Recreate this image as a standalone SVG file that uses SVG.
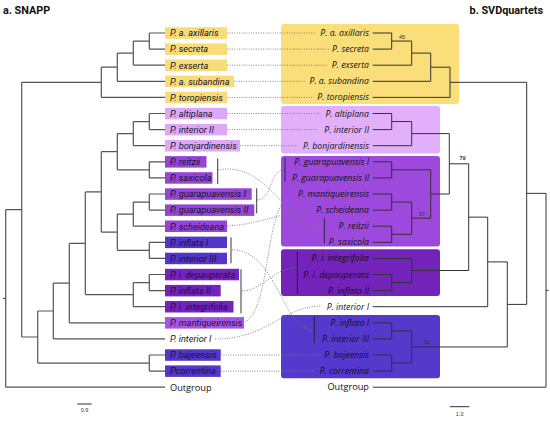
<svg xmlns="http://www.w3.org/2000/svg" width="550" height="423" viewBox="0 0 550 423">
<style>
.tl{fill:none;stroke:#555;stroke-width:1.2}
.tr{fill:none;stroke:#333;stroke-width:1}
.dot{fill:none;stroke:#7a7a7a;stroke-width:0.9;stroke-dasharray:1 1.4}
.bar{stroke:#222;stroke-width:0.9}
.ll{font-family:Roboto,"Liberation Sans",sans-serif;font-style:italic;font-size:9.2px;fill:#15152a}
.rl{font-family:"Open Sans","Noto Sans",sans-serif;font-style:italic;font-size:8.7px;fill:#111;text-anchor:end}
.og{font-family:"Open Sans","Noto Sans",sans-serif;font-size:9.2px;fill:#111}
.num{font-family:"Liberation Sans",sans-serif;font-size:5.5px;fill:#333}
.ttl{font-family:Roboto,"Liberation Sans",sans-serif;font-weight:bold;font-size:10.8px;fill:#111}
.y{fill:#f8dc77}.lv{fill:#dea8f7}.md{fill:#9644d8}.dk{fill:#7523bd}.bl{fill:#5436ca}.mt{fill:#a656e4}
</style>
<rect width="550" height="423" fill="#fff"/>
<text class="ttl" x="3" y="14">a. SNAPP</text>
<text class="ttl" x="543" y="14" text-anchor="end">b. SVDquartets</text>

<g id="right-boxes">
<rect x="281" y="24" width="178" height="80" rx="3" fill="#f9de7a"/>
<rect x="281" y="106" width="159" height="47.5" rx="3" fill="#e2b0fa"/>
<rect x="281" y="156" width="159" height="90.5" rx="3" fill="#9e49de"/>
<rect x="281" y="249.3" width="159" height="46.7" rx="3" fill="#7322ba"/>
<rect x="281" y="315" width="159" height="63.3" rx="3" fill="#5538cc"/>
</g>

<g id="connectors">
<path class="dot" d="M227,33H316 M227,49.1H329 M227,65.2H328 M234,81.3H305 M227,97.4H313 M227,113.5H321 M227,129.6H318 M240,145.7H297 M221,355H320 M221,371.1H315"/>
<path class="dot" d="M218,170 C268,160 288,228 323,231"/>
<path class="dot" d="M257,200 C272,200 270,170 284,170"/>
<path class="dot" d="M227,226 C262,224 282,212 311,210"/>
<path class="dot" d="M245,322 C272,308 264,200 293,194"/>
<path class="dot" d="M232,250 C277,250 282,330 313,330"/>
<path class="dot" d="M242,291 C265,290 272,268 297,268"/>
<path class="dot" d="M215,339 C268,339 282,306 322,306"/>
</g>

<g id="left-tree">
<path class="tl" d="M3,298.4H5.7 M5.7,209.65V387.2 M5.7,209.65H21.7 M5.7,387.2H165
M21.7,82.3V337 M21.7,82.3H101.3 M21.7,337H37.7
M101.3,67.2V97.4 M101.3,67.2H117.3 M101.3,97.4H165
M117.3,53.1V81.3 M117.3,53.1H133.3 M117.3,81.3H165
M133.3,41.05V65.2 M133.3,41.05H149.3 M133.3,65.2H165
M149.3,33V49.1 M149.3,33H165 M149.3,49.1H165
M37.7,311V363.05 M37.7,311H53.3 M37.7,363.05H149.3
M149.3,355V371.1 M149.3,355H165 M149.3,371.1H165
M53.3,283.05V338.9 M53.3,283.05H69.3 M53.3,338.9H165
M69.3,243.3V322.8 M69.3,243.3H85.3 M69.3,322.8H165
M85.3,191.95V294.6 M85.3,191.95H101.3 M85.3,294.6H133.3
M133.3,282.55V306.7 M133.3,282.55H149.3 M133.3,306.7H165
M149.3,274.5V290.6 M149.3,274.5H165 M149.3,290.6H165
M101.3,151.7V232.2 M101.3,151.7H117.3 M101.3,232.2H117.3
M117.3,133.6V169.85 M117.3,133.6H133.3 M117.3,169.85H149.3
M133.3,121.55V145.7 M133.3,121.55H149.3 M133.3,145.7H165
M149.3,113.5V129.6 M149.3,113.5H165 M149.3,129.6H165
M149.3,161.8V177.9 M149.3,161.8H165 M149.3,177.9H165
M117.3,214.1V250.35 M117.3,214.1H133.3 M117.3,250.35H149.3
M133.3,202.05V226.2 M133.3,202.05H149.3 M133.3,226.2H165
M149.3,194V210.1 M149.3,194H165 M149.3,210.1H165
M149.3,242.3V258.4 M149.3,242.3H165 M149.3,258.4H165"/>
</g>

<g id="right-tree">
<path class="tr" d="M372.7,33H391.7 M372.7,49.1H391.7 M391.7,33V49.1 M391.7,41.05H411.7 M372.7,65.2H411.7 M411.7,41.05V65.2
M411.7,53.1H430.7 M372.7,81.3H430.7 M430.7,53.1V81.3 M430.7,67.2H450 M372.7,97.4H450 M450,67.2V97.4
M450,82.3H526.7 M526.7,82.3V304.4 M507.3,304.4H526.7 M526.7,193.35H546 M546,193.35V387.2 M372.7,387.2H546 M546,290.3H548.5
M372.7,113.5H391.7 M372.7,129.6H391.7 M391.7,113.5V129.6 M391.7,121.55H411.7 M372.7,145.7H411.7 M411.7,121.55V145.7
M372.7,161.8H391.7 M372.7,177.9H391.7 M391.7,161.8V177.9
M372.7,194H391.7 M372.7,210.1H391.7 M391.7,194V210.1
M372.7,226.2H391.7 M372.7,242.3H391.7 M391.7,226.2V242.3
M391.7,202.05H411.7 M391.7,234.25H411.7 M411.7,202.05V234.25
M391.7,169.85H430.7 M411.7,218.15H430.7 M430.7,169.85V218.15
M411.7,133.6H449.3 M430.7,194H449.3 M449.3,133.6V194
M449.3,163.8H468.7 M411.7,270.5H468.7 M468.7,163.8V270.5
M372.7,274.5H391.7 M372.7,290.6H391.7 M391.7,274.5V290.6 M391.7,282.55H411.7 M372.7,258.4H411.7 M411.7,258.4V282.55
M468.7,217.15H487.7 M372.7,306.7H487.7 M487.7,217.15V306.7
M372.7,322.8H391.7 M372.7,338.9H391.7 M391.7,322.8V338.9
M372.7,355H391.7 M372.7,371.1H391.7 M391.7,355V371.1
M391.7,330.85H411.7 M391.7,363.05H411.7 M411.7,330.85V363.05
M487.7,261.9H507.3 M411.7,346.95H507.3 M507.3,261.9V346.95"/>
<text class="num" x="399" y="38.5">45</text>
<text class="num" x="459.5" y="160" font-weight="bold" font-size="6px">79</text>
<text class="num" x="419" y="215.5">57</text>
<text class="num" x="424" y="344">52</text>
</g>

<g id="left-labels">
<g id="L1"><rect class="y" x="165" y="27.3" width="62" height="11.5"/><text class="ll" x="170" y="36.3">P. a. axillaris</text></g>
<g id="L2"><rect class="y" x="165" y="43.4" width="62" height="11.5"/><text class="ll" x="170" y="52.4">P. secreta</text></g>
<g id="L3"><rect class="y" x="165" y="59.5" width="62" height="11.5"/><text class="ll" x="170" y="68.5">P. exserta</text></g>
<g id="L4"><rect class="y" x="165" y="75.6" width="69" height="11.5"/><text class="ll" x="170" y="84.6">P. a. subandina</text></g>
<g id="L5"><rect class="y" x="165" y="91.7" width="62" height="11.5"/><text class="ll" x="170" y="100.7">P. toropiensis</text></g>
<g id="L6"><rect class="lv" x="165" y="107.8" width="62" height="11.5"/><text class="ll" x="170" y="116.8">P. altiplana</text></g>
<g id="L7"><rect class="lv" x="165" y="123.9" width="62" height="11.5"/><text class="ll" x="170" y="132.9">P. interior II</text></g>
<g id="L8"><rect class="lv" x="165" y="140" width="75" height="11.5"/><text class="ll" x="170" y="149">P. bonjardinensis</text></g>
<g id="L9"><rect class="md" x="165" y="156.1" width="41.5" height="11.5"/><text class="ll" x="170" y="165.1">P. reitzii</text></g>
<g id="L10"><rect class="md" x="165" y="172.2" width="47.5" height="11.5"/><text class="ll" x="170" y="181.2">P. saxicola</text></g>
<g id="L11"><rect class="md" x="165" y="188.3" width="86.7" height="11.5"/><text class="ll" x="170" y="197.3">P. guarapuavensis I</text></g>
<g id="L12"><rect class="md" x="165" y="204.4" width="89.3" height="11.5"/><text class="ll" x="170" y="213.4">P. guarapuavensis II</text></g>
<g id="L13"><rect class="md" x="165" y="220.5" width="62" height="11.5"/><text class="ll" x="170" y="229.5">P. scheideana</text></g>
<g id="L14"><rect class="bl" x="165" y="236.6" width="62" height="11.5"/><text class="ll" x="170" y="245.6">P. inflata I</text></g>
<g id="L15"><rect class="bl" x="165" y="252.7" width="62" height="11.5"/><text class="ll" x="170" y="261.7">P. interior III</text></g>
<g id="L16"><rect class="dk" x="165" y="268.8" width="74" height="11.5"/><text class="ll" x="170" y="277.8">P. i. depauperata</text></g>
<g id="L17"><rect class="dk" x="165" y="284.9" width="55.7" height="11.5"/><text class="ll" x="170" y="293.9">P. inflata II</text></g>
<g id="L18"><rect class="dk" x="165" y="301" width="68.5" height="11.5"/><text class="ll" x="170" y="310">P. i. integrifolia</text></g>
<g id="L19"><rect class="mt" x="165" y="317.1" width="79" height="11.5"/><text class="ll" x="170" y="326.1">P. mantiqueirensis</text></g>
<g id="L20"><text class="ll" x="170" y="342.2">P. interior I</text></g>
<g id="L21"><rect class="bl" x="165" y="349.3" width="55.7" height="11.5"/><text class="ll" x="170" y="358.3">P. bajeensis</text></g>
<g id="L22"><rect class="bl" x="165" y="365.4" width="55.7" height="11.5"/><text class="ll" x="170" y="374.4">Pcorrentina</text></g>
<g id="L23"><text class="og" x="170" y="390.5">Outgroup</text></g>
<line class="bar" x1="217.7" y1="158.3" x2="217.7" y2="184"/>
<line class="bar" x1="256.7" y1="188.3" x2="256.7" y2="213.3"/>
<line class="bar" x1="231" y1="237.3" x2="231" y2="263.3"/>
<line class="bar" x1="241" y1="269.3" x2="241" y2="313.3"/>
</g>

<g id="right-labels">
<text class="rl" x="369" y="36">P. a. axillaris</text>
<text class="rl" x="369" y="52.1">P. secreta</text>
<text class="rl" x="369" y="68.2">P. exserta</text>
<text class="rl" x="369" y="84.3">P. a. subandina</text>
<text class="rl" x="369" y="100.4">P. toropiensis</text>
<text class="rl" x="369" y="116.5">P. altiplana</text>
<text class="rl" x="369" y="132.6">P. interior II</text>
<text class="rl" x="369" y="148.7">P. bonjardinensis</text>
<text class="rl" x="369" y="164.8">P. guarapuavensis I</text>
<text class="rl" x="369" y="180.9">P. guarapuavensis II</text>
<text class="rl" x="369" y="197">P. mantiqueirensis</text>
<text class="rl" x="369" y="213.1">P. scheideana</text>
<text class="rl" x="369" y="229.2">P. reitzii</text>
<text class="rl" x="369" y="245.3">P. saxicola</text>
<text class="rl" x="369" y="261.4">P. i. integrifolia</text>
<text class="rl" x="369" y="277.5">P. i. depauperata</text>
<text class="rl" x="369" y="293.6">P. inflata II</text>
<text class="rl" x="369" y="309.7">P. interior I</text>
<text class="rl" x="369" y="325.8">P. inflata I</text>
<text class="rl" x="369" y="341.9">P. interior III</text>
<text class="rl" x="369" y="358">P. bajeensis</text>
<text class="rl" x="369" y="374.1">P. correntina</text>
<text class="og" x="369" y="390.2" text-anchor="end">Outgroup</text>
<line class="bar" x1="285" y1="157.7" x2="285" y2="181.7"/>
<line class="bar" x1="324.3" y1="218" x2="324.3" y2="243.3"/>
<line class="bar" x1="297.3" y1="251.7" x2="297.3" y2="294"/>
<line class="bar" x1="314.3" y1="316.7" x2="314.3" y2="343.3"/>
</g>

<g id="scales">
<line x1="77.3" y1="404" x2="91.7" y2="404" stroke="#333" stroke-width="1"/>
<text class="num" x="84.5" y="412" text-anchor="middle">0.9</text>
<line x1="450" y1="406.7" x2="469.3" y2="406.7" stroke="#333" stroke-width="1"/>
<text class="num" x="459.7" y="416" text-anchor="middle" font-size="6px">1.0</text>
</g>
</svg>
